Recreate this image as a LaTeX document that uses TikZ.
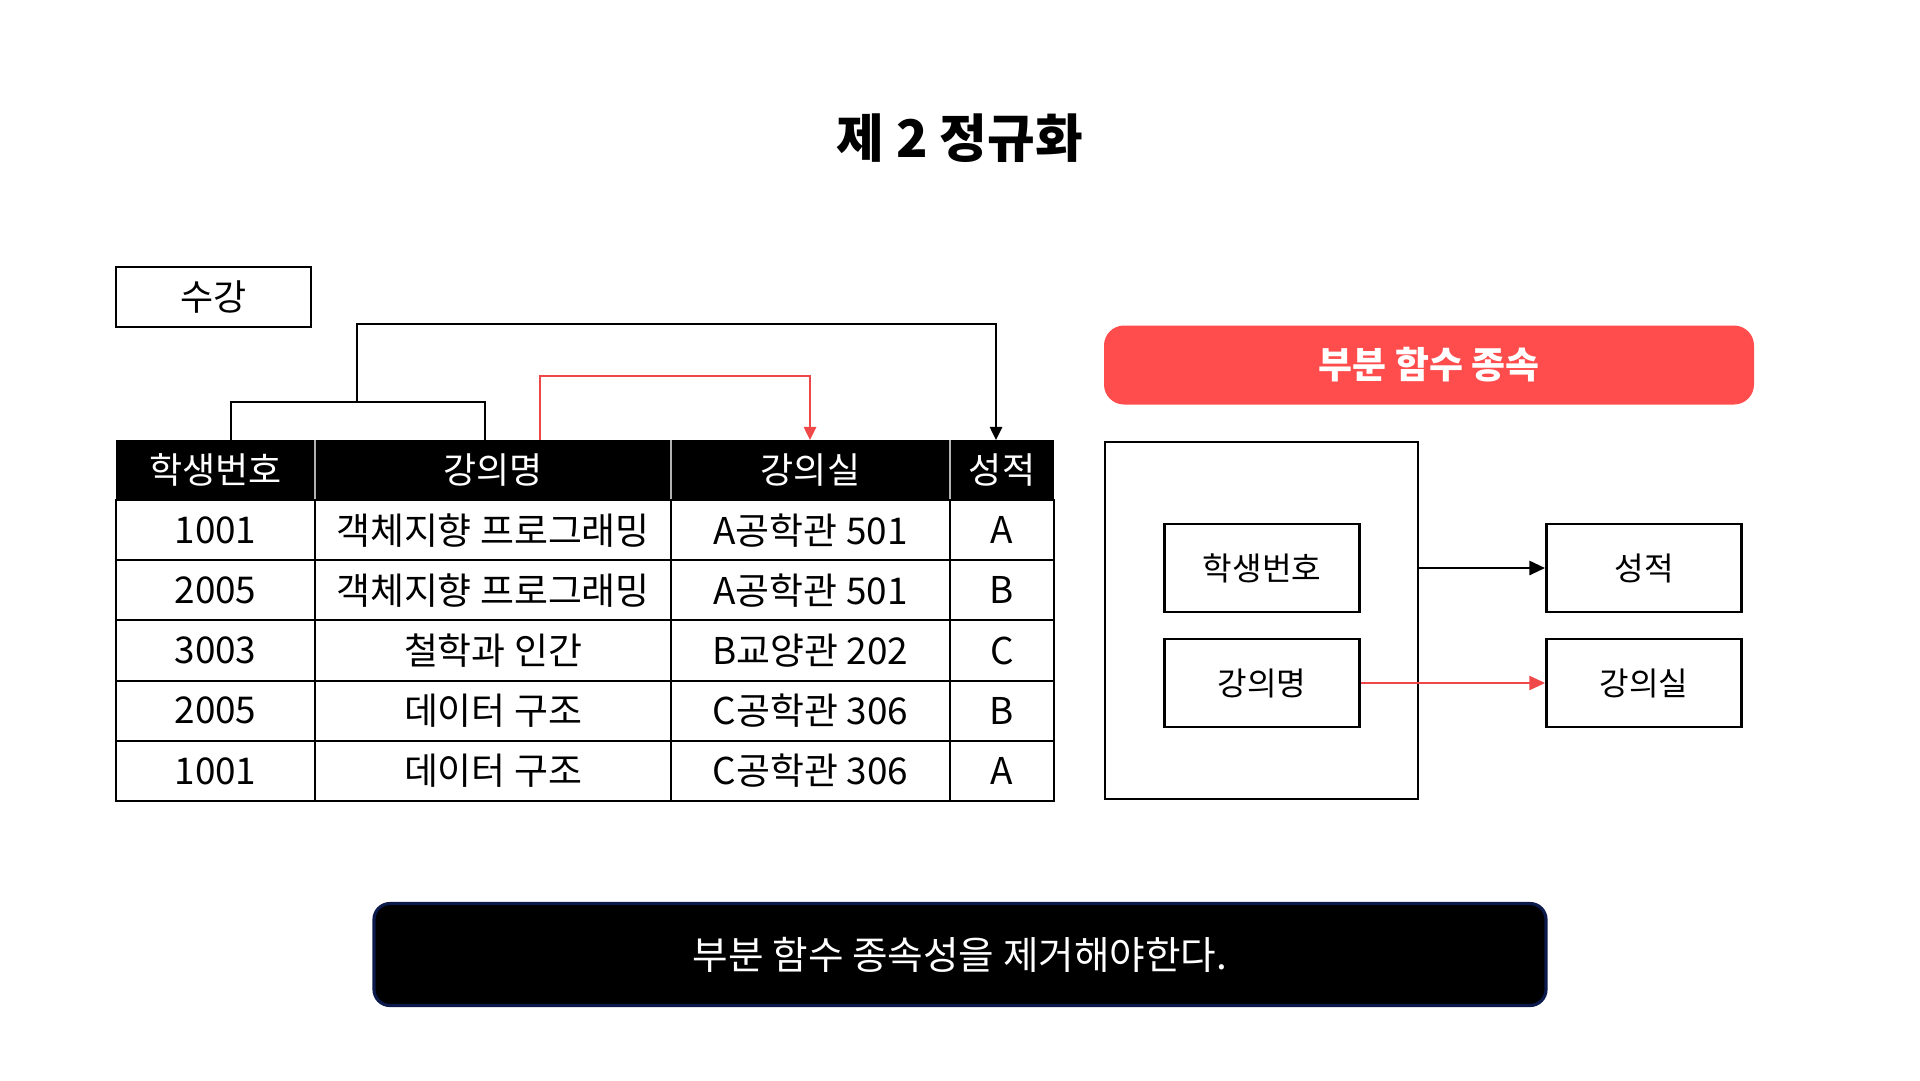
\documentclass[tikz,border=0pt]{standalone}
\usepackage{fontspec}
\setmainfont{Noto Sans CJK KR}
\usetikzlibrary{arrows.meta}
\definecolor{redfill}{HTML}{FF4D4D}
\definecolor{redline}{HTML}{F04848}
\definecolor{navyb}{HTML}{0B1A4A}
\newcommand{\pxfont}[1]{\fontsize{#1}{#1}\selectfont}
\tikzset{
  cellbox/.style={draw=black, line width=1.2pt, inner sep=0pt, minimum width=#1*0.02cm, minimum height=60.2*0.02cm, font=\pxfont{21pt}},
  hdrtxt/.style={text=white, inner sep=0pt, font=\pxfont{20.5pt}},
  attrbox/.style={draw=black, line width=1.6pt, minimum width=195*0.02cm, minimum height=88*0.02cm, inner sep=0pt, font=\pxfont{18.3pt}},
  conn/.style={line width=1.2pt},
  tip/.style={-{Triangle[length=7.5pt,width=7pt]}},
  bigtip/.style={-{Triangle[length=9pt,width=8pt]}},
}
\begin{document}
\begin{tikzpicture}[x=0.02cm,y=-0.02cm]
\useasboundingbox[fill=white] (0,0) rectangle (1920,1080);

% title
\node[font=\pxfont{29.5pt}\bfseries] (title) at (960,138) {제 2 정규화};

% 수강 box
\node[draw=black, line width=1.2pt, minimum width=195*0.02cm, minimum height=60*0.02cm, inner sep=0pt, font=\pxfont{20.5pt}] (sugang) at (213.5,297) {수강};

% header row
\fill[black] (116,440) rectangle (1054,500);
\foreach \x in {315,671,950}{ \draw[gray!60, line width=0.6pt] (\x,440) -- (\x,500); }
\node[hdrtxt] (h1) at (215.5,470) {학생번호};
\node[hdrtxt] (h2) at (493,470) {강의명};
\node[hdrtxt] (h3) at (810.5,470) {강의실};
\node[hdrtxt] (h4) at (1002,470) {성적};

% body cells
\foreach \r/\a/\b/\c/\d in {1/1001/객체지향 프로그래밍/A공학관 501/A, 2/2005/객체지향 프로그래밍/A공학관 501/B, 3/3003/철학과 인간/B교양관 202/C, 4/2005/데이터 구조/C공학관 306/B, 5/1001/데이터 구조/C공학관 306/A}{
  \pgfmathsetmacro{\yy}{500+60.2*(\r-0.5)}
  \node[cellbox=199] (c\r a) at (215.5,\yy) {\a};
  \node[cellbox=356] (c\r b) at (493,\yy) {\b};
  \node[cellbox=279] (c\r c) at (810.5,\yy) {\c};
  \node[cellbox=104] (c\r d) at (1002,\yy) {\d};
}

% connectors in table
\coordinate (p1) at (231,440);
\coordinate (p2) at (485,440);
\coordinate (pm) at (357,402);
\coordinate (pt) at (996,440);
\coordinate (r1) at (540,440);
\coordinate (r2) at (810,440);
\draw[conn] (p1) -- (231,402) -- (485,402) -- (p2);
\draw[conn, tip] (pm) -- (357,324) -- (996,324) -- (pt);
\draw[conn, redline, tip] (r1) -- (540,376) -- (810,376) -- (r2);

% right side
\node[fill=redfill, rounded corners=20*0.02cm, minimum width=650*0.02cm, minimum height=79*0.02cm, inner sep=0pt, text=white, font=\pxfont{21pt}\bfseries] (banner) at (1429,365) {부분 함수 종속};

\node[draw=black, line width=1.6pt, minimum width=313*0.02cm, minimum height=357*0.02cm, inner sep=0pt] (group) at (1261.5,620.5) {};
\node[attrbox] (sid) at (1262,568) {학생번호};
\node[attrbox] (cname) at (1262,683) {강의명};
\node[attrbox] (grade) at (1644,568) {성적};
\node[attrbox] (room) at (1644,683) {강의실};

\draw[conn, line width=1.6pt, bigtip] (group.east |- sid) -- (grade.west);
\draw[conn, line width=1.4pt, redline, bigtip] (cname.east) -- (room.west);

% bottom box
\node[fill=black, draw=navyb, line width=1.8pt, rounded corners=16*0.02cm, minimum width=1172*0.02cm, minimum height=102*0.02cm, inner sep=0pt, text=white, font=\pxfont{22pt}] (note) at (960,954.5) {부분 함수 종속성을 제거해야한다.};
\end{tikzpicture}
\end{document}
